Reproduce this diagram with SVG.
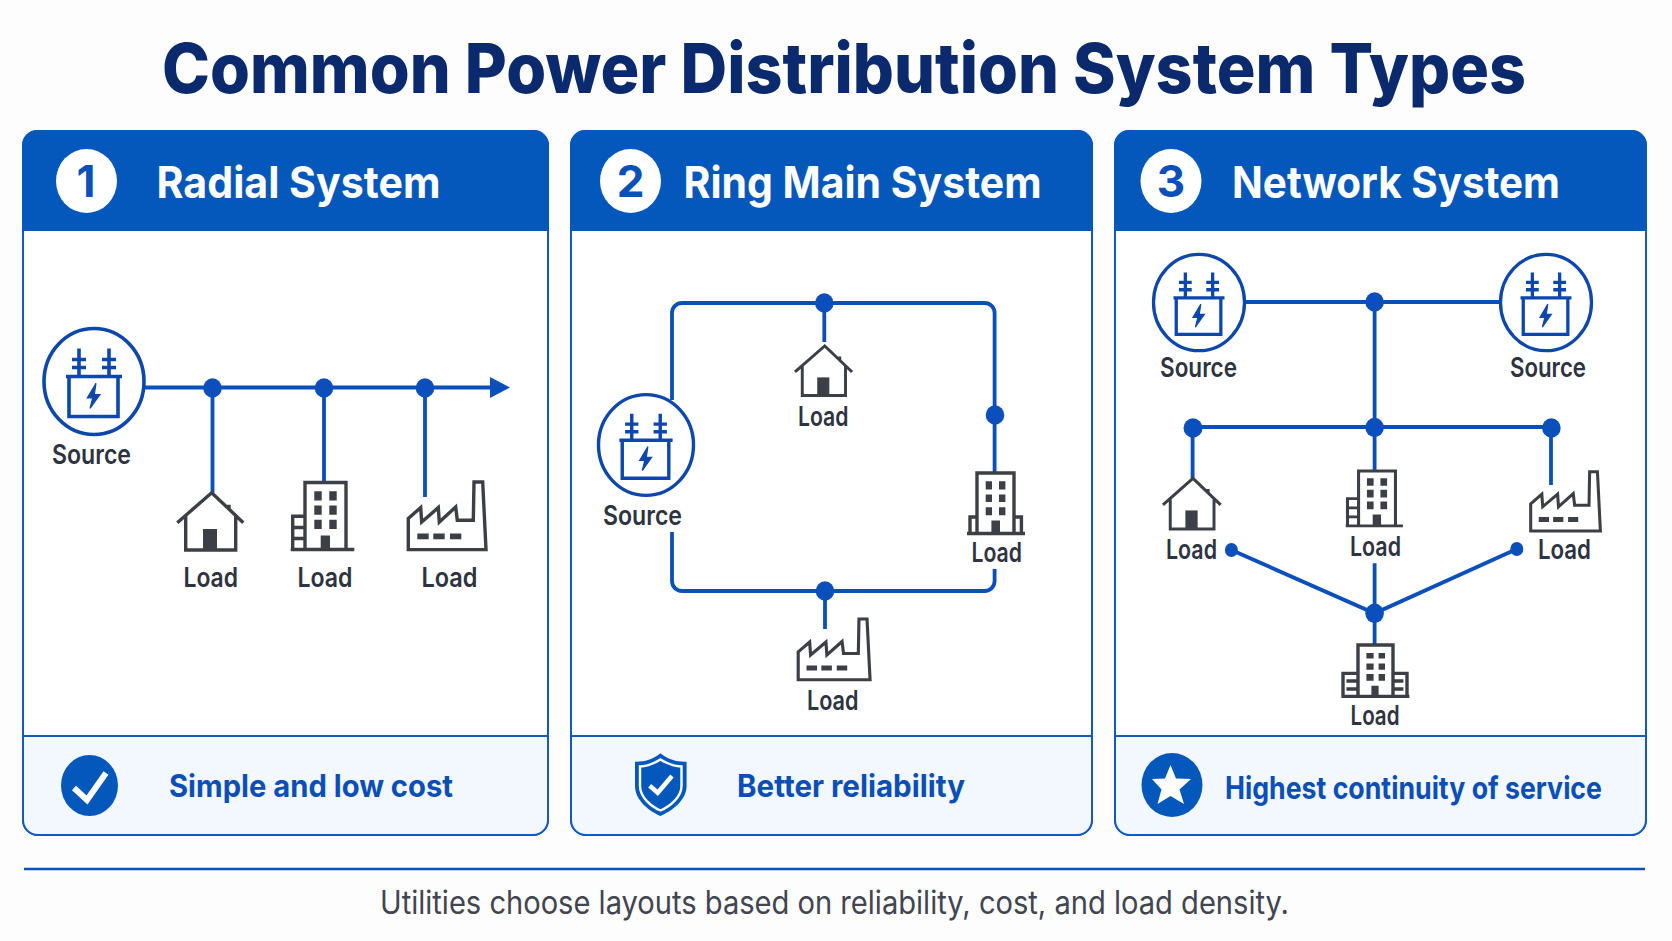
<svg xmlns="http://www.w3.org/2000/svg" width="1672" height="941" viewBox="0 0 1672 941">
<style>
text{font-family:Inter,"Liberation Sans",Arial,sans-serif}
.title{font-size:69px;font-weight:800;fill:#0b2a6e}
.head{font-size:44px;font-weight:700;fill:#fff}
.num{font-size:44px;font-weight:700;fill:#0a50b8;text-anchor:middle}
.foot{font-size:31px;font-weight:700;fill:#0a4fb8}
.lab{font-size:27px;font-weight:600;fill:#2d3340}
.note{font-size:32px;font-weight:400;fill:#41454f}
.card{fill:#fff;stroke:#1459c0;stroke-width:2}
.hdr{fill:#0558bb}
.ftr{fill:#f3f7fe;stroke:#1459c0;stroke-width:2}
.wire{fill:none;stroke:#0b4fbd;stroke-width:3.8}
.dot{fill:#0b4fbd}
.ic{fill:none;stroke:#3c3f46;stroke-width:3.4}
.icf{fill:#3c3f46}
.tr{fill:none;stroke:#0d47ad;stroke-width:3.6}
.trf{fill:#0d47ad;stroke:#0d47ad;stroke-width:1.2}
</style>
<defs>
<g id="transformer">
<ellipse class="tr" cx="0" cy="0" rx="50" ry="53"/>
<path class="tr" d="M-15-33V-6M15-33V-6M-22-22H-8M-22-14H-8M8-22H22M8-14H22M-28-5H28M-25-5V35H24V-5" stroke-width="4"/>
<path class="trf" d="M2 1.700-6.700 16.300H-1.300L-4 27 6 13H.3Z"/>
</g>
<g id="house">
<path class="ic" d="M0 30 34.400 0 66 30M8.400 23V57.300H58.400V23M51.700 12V17"/>
<rect class="icf" x="25.700" y="36.300" width="14" height="21"/>
</g>
<g id="bldgA">
<path class="ic" d="M14.300 67V0H55.300V67M0 67H63.600M14.300 33.700H2V67M2 45H14.300M2 56H14.300"/>
<path class="icf" d="M23.600 8.700h7.400v9.300h-7.400zM38.600 8.700h7.400v9.300h-7.400zM23.600 23h7.400v9.300h-7.400zM38.600 23h7.400v9.300h-7.400zM23.600 37.300h7.400v9.300h-7.400zM38.600 37.300h7.400v9.300h-7.400zM30 53h9.300v15H30z"/>
</g>
<g id="bldgB">
<path class="ic" d="M10 60V0H47V60M0 60.500H58M10 44H3V60M47 44H54.400V60"/>
<path class="icf" d="M18.700 8.300h6.300v8.300h-6.300zM32 8.300h6.400v8.300H32zM18.700 21.600h6.300V29h-6.300zM32 21.600h6.400V29H32zM18.700 34.300h6.300v8h-6.300zM32 34.300h6.400v8H32zM24.400 47.600H33V60h-8.600z"/>
</g>
<g id="bldgC">
<path class="ic" d="M16.600 51V0H51.600V51M0 51.400H68M16.600 28.400H1.600V51M51.600 28.400H65.600V51M5 36H16.600M5 44H16.600M51.600 36H62M51.600 44H62"/>
<path class="icf" d="M25 8h7.200v5.400H25zM37.200 8h6.400v5.400h-6.400zM25 18.400h7.200v6.300H25zM37.200 18.400h6.400v6.300h-6.400zM25 29h7.200v6.700H25zM37.200 29h6.400v6.700h-6.400zM30 40.700h7.200v10H30z"/>
</g>
<g id="factory">
<path class="ic" d="M0 36.600 12.400 25.600 13.400 40 30 25.600 31 40 47.400 25 49 38.300H65L65.700 0H74.400L77.700 67.600H0Z"/>
<path class="icf" d="M9 51.600h11.400v5.700H9zM25 51.600h11.400v5.700H25zM41.700 51.600H53v5.700H41.700z"/>
</g>
</defs>

<rect width="1672" height="941" fill="#fdfdfe"/>
<text id="title" class="title" x="162" y="93" textLength="1364" lengthAdjust="spacingAndGlyphs">Common Power Distribution System Types</text>

<g id="card-radial">
<rect class="card" x="23" y="131" width="525" height="704" rx="15"/>
<path class="hdr" d="M22 231V145a15 15 0 0 1 15-15H534a15 15 0 0 1 15 15V231Z"/>
<ellipse cx="86.500" cy="181" rx="30.500" ry="32" fill="#fff"/>
<text class="num" x="86" y="197">1</text>
<text class="head" x="156.500" y="198" textLength="284" lengthAdjust="spacingAndGlyphs">Radial System</text>
<path class="ftr" d="M23 736H548V820a15 15 0 0 1-15 15H38a15 15 0 0 1-15-15Z"/>
<ellipse cx="89.500" cy="785.500" rx="28.500" ry="30.500" fill="#0558bb"/>
<path d="M74 788 87 800 106 773" fill="none" stroke="#fff" stroke-width="6"/>
<text class="foot" x="169" y="797" textLength="284" lengthAdjust="spacingAndGlyphs">Simple and low cost</text>
</g>
<g id="card-ring">
<rect class="card" x="571" y="131" width="521" height="704" rx="15"/>
<path class="hdr" d="M570 231V145a15 15 0 0 1 15-15H1078a15 15 0 0 1 15 15V231Z"/>
<ellipse cx="630.500" cy="181" rx="30.500" ry="32" fill="#fff"/>
<text class="num" x="630.500" y="197">2</text>
<text class="head" x="683.500" y="198" textLength="358" lengthAdjust="spacingAndGlyphs">Ring Main System</text>
<path class="ftr" d="M571 736H1092V820a15 15 0 0 1-15 15H586a15 15 0 0 1-15-15Z"/>
<path d="M660.400 753.300C669 760 677 762 686.600 761.700V786C686.600 800 672 811 660.400 816 649 811 635 800 635 786V761.700C644 762 652 760 660.400 753.300Z" fill="#0558bb"/>
<path d="M660.400 759.500C668 764 675 766.500 681.500 766.500V786C681.500 797 670 806.500 660.400 810.500 651 806.500 640 797 640 786V766.500C646 766.500 653 764 660.400 759.500Z" fill="none" stroke="#fff" stroke-width="2.400"/>
<path d="M649.700 785.700 657.700 792.700 672 776" fill="none" stroke="#fff" stroke-width="4.500"/>
<text class="foot" x="737" y="797" textLength="228" lengthAdjust="spacingAndGlyphs">Better reliability</text>
</g>
<g id="card-network">
<rect class="card" x="1115" y="131" width="531" height="704" rx="15"/>
<path class="hdr" d="M1114 231V145a15 15 0 0 1 15-15H1632a15 15 0 0 1 15 15V231Z"/>
<ellipse cx="1171" cy="181" rx="30.500" ry="32" fill="#fff"/>
<text class="num" x="1171" y="197">3</text>
<text class="head" x="1232" y="198" textLength="328" lengthAdjust="spacingAndGlyphs">Network System</text>
<path class="ftr" d="M1115 736H1646V820a15 15 0 0 1-15 15H1130a15 15 0 0 1-15-15Z"/>
<ellipse cx="1172" cy="785" rx="30.500" ry="32" fill="#0558bb"/>
<path d="M1170.500 765 1176 778.500 1191 779 1179.500 789.500 1184 804 1170.500 796 1157.500 804 1161.500 789.500 1152 779 1165 778.500Z" fill="#fff"/>
<text class="foot" x="1225" y="799" textLength="377" lengthAdjust="spacingAndGlyphs">Highest continuity of service</text>
</g>

<g id="connectors">
<path class="wire" d="M145 387.500H492M212.500 387V493M324 387V482M425 387V497"/>
<path class="dot" d="M490 377 510 387.500 490 398Z"/>
<path class="wire" d="M672 400V313a10 10 0 0 1 10-10H984.600a10 10 0 0 1 10 10V473M994.600 569V581a10 10 0 0 1-10 10H682a10 10 0 0 1-10-10V532M824.300 303V342M825 591V629"/>
<path class="wire" d="M1245 302H1499M1374.600 302V471M1193 427H1551.400M1192.600 427V478M1551 427V485M1231.400 550 1374.600 613.300 1516.800 549M1374.600 563.300V645"/>
<g class="dot">
<ellipse cx="212.500" cy="388" rx="9.300" ry="9.700"/><ellipse cx="324" cy="388" rx="9.300" ry="9.700"/><ellipse cx="425" cy="388" rx="9.300" ry="9.700"/>
<ellipse cx="824.300" cy="303" rx="9.300" ry="9.700"/><ellipse cx="995" cy="415" rx="9.300" ry="9.700"/><ellipse cx="825" cy="591" rx="9.300" ry="9.700"/>
<ellipse cx="1374.600" cy="302" rx="9.300" ry="9.700"/><ellipse cx="1193" cy="428" rx="9.500" ry="9.700"/><ellipse cx="1374.600" cy="427.500" rx="9.300" ry="9.700"/><ellipse cx="1551.400" cy="428" rx="9.300" ry="9.700"/>
<ellipse cx="1374.600" cy="613.300" rx="9.300" ry="9.700"/><ellipse cx="1231.400" cy="550" rx="6.500" ry="7"/><ellipse cx="1516.800" cy="549" rx="6.500" ry="7"/>
</g>
</g>

<g id="r-source"><use href="#transformer" transform="translate(94,381.500)"/><text class="lab" x="52" y="464" textLength="79" lengthAdjust="spacingAndGlyphs">Source</text></g>
<g id="r-load-1"><use href="#house" transform="translate(177.300,492.700)"/><text class="lab" x="183.500" y="587" textLength="54.500" lengthAdjust="spacingAndGlyphs">Load</text></g>
<g id="r-load-2"><use href="#bldgA" transform="translate(290.700,482.500)"/><text class="lab" x="297.500" y="587" textLength="55" lengthAdjust="spacingAndGlyphs">Load</text></g>
<g id="r-load-3"><use href="#factory" transform="translate(408.300,482)"/><text class="lab" x="421.500" y="587" textLength="56" lengthAdjust="spacingAndGlyphs">Load</text></g>

<g id="g-source"><use href="#transformer" transform="translate(646,445) scale(.95)"/><text class="lab" x="603" y="525" textLength="79" lengthAdjust="spacingAndGlyphs">Source</text></g>
<g id="g-load-1"><use href="#house" transform="translate(795,346) scale(.865)"/><text class="lab" x="798" y="426" textLength="50.500" lengthAdjust="spacingAndGlyphs">Load</text></g>
<g id="g-load-2"><use href="#bldgB" transform="translate(967,473)"/><text class="lab" x="971.500" y="562" textLength="50.500" lengthAdjust="spacingAndGlyphs">Load</text></g>
<g id="g-load-3"><use href="#factory" transform="translate(798.200,619) scale(.925,.9)"/><text class="lab" x="807" y="710" textLength="51.500" lengthAdjust="spacingAndGlyphs">Load</text></g>

<g id="n-source-1"><use href="#transformer" transform="translate(1199,302.500) scale(.91)"/><text class="lab" x="1160" y="377" textLength="77" lengthAdjust="spacingAndGlyphs">Source</text></g>
<g id="n-source-2"><use href="#transformer" transform="translate(1546,302.500) scale(.91)"/><text class="lab" x="1510" y="377" textLength="76" lengthAdjust="spacingAndGlyphs">Source</text></g>
<g id="n-load-1"><use href="#house" transform="translate(1162.900,478.300) scale(.875,.885)"/><text class="lab" x="1166" y="559" textLength="51" lengthAdjust="spacingAndGlyphs">Load</text></g>
<g id="n-load-2"><use href="#bldgA" transform="translate(1345.700,471) scale(.9,.82)"/><text class="lab" x="1350" y="556" textLength="51" lengthAdjust="spacingAndGlyphs">Load</text></g>
<g id="n-load-3"><use href="#factory" transform="translate(1530.700,471.700) scale(.897,.877)"/><text class="lab" x="1538" y="559" textLength="53" lengthAdjust="spacingAndGlyphs">Load</text></g>
<g id="n-load-4"><use href="#bldgC" transform="translate(1341.400,645)"/><text class="lab" x="1350.500" y="725" textLength="49" lengthAdjust="spacingAndGlyphs">Load</text></g>

<path d="M24 869H1645" stroke="#0b4fbd" stroke-width="2.400" fill="none"/>
<text id="note" class="note" x="380" y="914" textLength="909" lengthAdjust="spacingAndGlyphs">Utilities choose layouts based on reliability, cost, and load density.</text>
</svg>
